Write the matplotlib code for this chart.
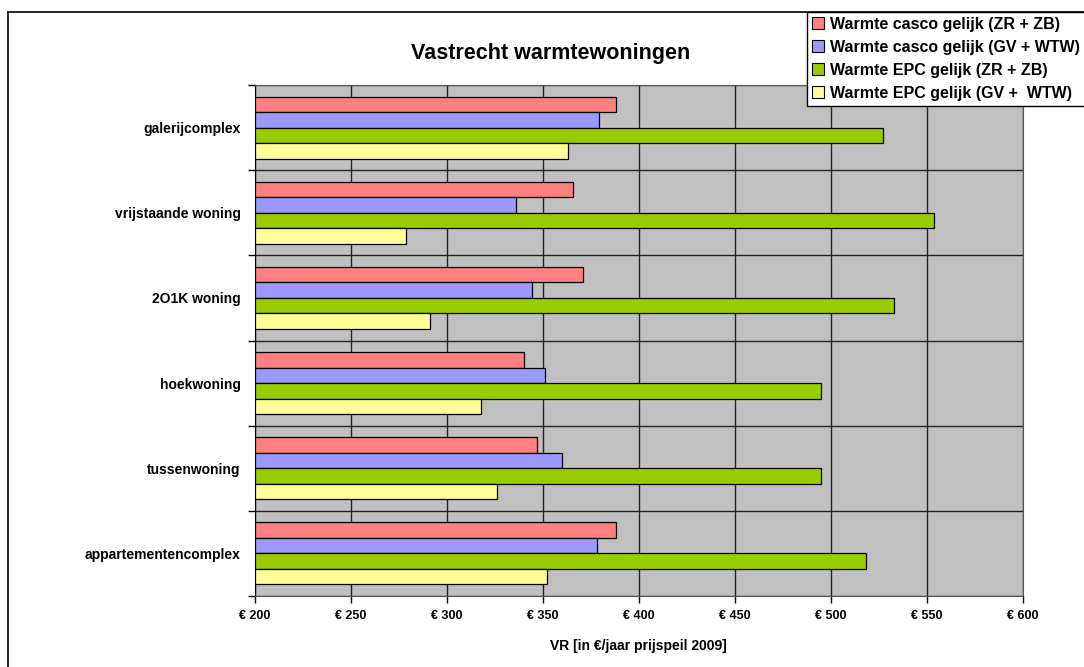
import matplotlib
matplotlib.use("Agg")
import matplotlib.pyplot as plt
import numpy as np
from matplotlib.lines import Line2D
from matplotlib.ticker import FixedLocator, NullFormatter

plt.rcParams['font.family'] = ['Liberation Sans', 'DejaVu Sans']

categories = ["galerijcomplex", "vrijstaande woning", "2O1K woning",
              "hoekwoning", "tussenwoning", "appartementencomplex"]
series_names = ["Warmte casco gelijk (ZR + ZB)",
                "Warmte casco gelijk (GV + WTW)",
                "Warmte EPC gelijk (ZR + ZB)",
                "Warmte EPC gelijk (GV +  WTW)"]
casco_zr = [388, 366, 371, 340, 347, 388]
casco_gv = [379.5, 336, 344.5, 351, 360, 378.5]
epc_zr = [527, 554, 533, 495, 495, 518.5]
epc_gv = [363, 279, 291.5, 318, 326, 352]
colors = ["#FF8080", "#9999FF", "#99CC00", "#FFFF99"]
xticks = [200, 250, 300, 350, 400, 450, 500, 550, 600]
xticklabels = ["€ %d" % v for v in xticks]

series = [casco_zr, casco_gv, epc_zr, epc_gv]

W, H = 1084, 667
fig = plt.figure(figsize=(W / 100, H / 100), dpi=100)
ax = fig.add_axes([254.7 / W, 1 - 596 / H, 768 / W, 511 / H])
ax.set_facecolor("#C0C0C0")

n = len(categories)
barh = 0.182
offsets = [-1.5, -0.5, 0.5, 1.5]
ypos = np.arange(n)
for s, vals in enumerate(series):
    ax.barh(ypos + offsets[s] * barh, np.array(vals) - 200, left=200,
            height=barh, color=colors[s], edgecolor="black", linewidth=0.9,
            label=series_names[s], zorder=3)

ax.set_xlim(200, 600)
ax.set_ylim(n - 0.5, -0.5)
ax.set_xticks(xticks)
ax.set_xticklabels(xticklabels, fontsize=9, fontweight="bold")
ax.set_yticks(ypos)
ax.set_yticklabels(categories, fontsize=10, fontweight="bold")
ax.yaxis.set_minor_locator(FixedLocator(np.arange(-0.5, n, 1.0)))
ax.yaxis.set_minor_formatter(NullFormatter())
ax.tick_params(axis="y", which="major", length=0, pad=10)
ax.tick_params(axis="y", which="minor", length=5, width=1, direction="out")
ax.tick_params(axis="x", which="major", length=5, width=1, direction="out", pad=5)

ax.grid(axis="x", which="major", color="#222222", linewidth=1, zorder=1)
ax.grid(axis="y", which="minor", color="#222222", linewidth=1, zorder=1)
ax.set_axisbelow(True)
for side in ["top", "right"]:
    ax.spines[side].set_color("#555555")
ax.spines["left"].set_color("black")
ax.spines["bottom"].set_color("#555555")

ax.set_xlabel("VR [in €/jaar prijspeil 2009]", fontsize=10, fontweight="bold", labelpad=12)
fig.text(551 / W, 1 - 54 / H, "Vastrecht warmtewoningen", fontsize=15.5,
         fontweight="bold", ha="center", va="center")

# outer chart border
fig.add_artist(Line2D([8 / W, 8 / W], [0, 1 - 12 / H], color="black", linewidth=1.2))
fig.add_artist(Line2D([8 / W, 1], [1 - 12 / H, 1 - 12 / H], color="black", linewidth=1.2))

handles = [plt.Rectangle((0, 0), 1, 1, facecolor=c, edgecolor="black", linewidth=0.8)
           for c in colors]
leg = fig.legend(handles, series_names, loc="upper left",
                 bbox_to_anchor=(807 / W, 1 - 12 / H), frameon=True,
                 fancybox=False, framealpha=1.0, prop={"size": 11.5, "weight": "bold"},
                 handlelength=0.75, handleheight=0.75, handletextpad=0.4,
                 labelspacing=0.5, borderpad=0.3, borderaxespad=0)
leg.get_frame().set_edgecolor("black")
leg.get_frame().set_facecolor("white")
leg.get_frame().set_linewidth(1.0)

fig.savefig("out.png", dpi=100)
